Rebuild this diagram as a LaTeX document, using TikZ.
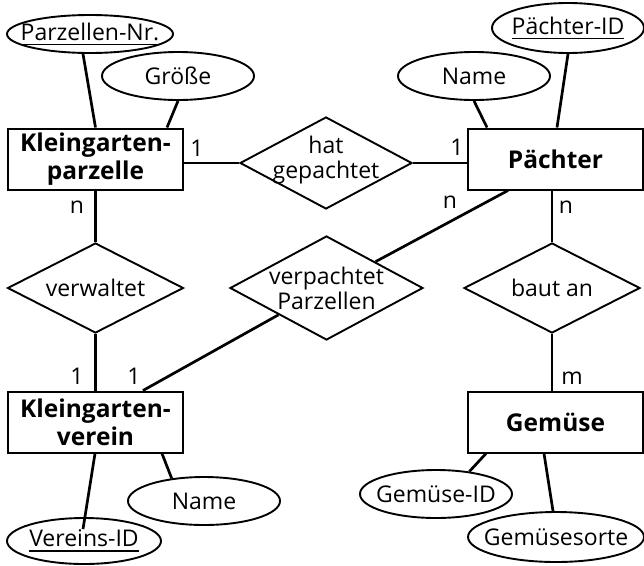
\documentclass[tikz,border=0pt]{standalone}
\usepackage{fontspec}
\setmainfont{Open Sans}
\usetikzlibrary{shapes.geometric}
\newcommand\keyattr[1]{\setbox0\hbox{#1}\rlap{\rule[-5pt]{\wd0}{1.6pt}}\box0}
\begin{document}
\begin{tikzpicture}[x=1pt,y=-1pt,
  font=\fontsize{23}{25}\selectfont,
  entity/.style={draw, line width=2pt, fill=white, font=\fontsize{24.5}{28}\selectfont\bfseries,
    align=center, inner sep=0pt, minimum width=175pt, minimum height=61pt},
  attr/.style={draw, ellipse, line width=1.9pt, inner sep=0pt},
  rel/.style={draw, diamond, line width=1.9pt, fill=white, inner sep=0pt},
  conn/.style={line width=2.7pt},
  card/.style={inner sep=0pt}]
\useasboundingbox (0,0) rectangle (644,565);

% entities
\node[entity] (kp) at (95.5,159) {Kleingarten-\\parzelle};
\node[entity] (pa) at (555.5,159) {Pächter};
\node[entity] (kv) at (95.5,422) {Kleingarten-\\verein};
\node[entity] (gem) at (555.5,422) {Gemüse};

% relationships
\node[rel, minimum width=172pt, minimum height=92pt,
  label={[align=center, inner sep=0pt, yshift=3pt]center:hat\\gepachtet}] (hat) at (326,163) {};
\node[rel, minimum width=176pt, minimum height=90pt,
  label={[inner sep=0pt]center:verwaltet}] (verw) at (95.5,288) {};
\node[rel, minimum width=193pt, minimum height=104pt,
  label={[align=center, inner sep=0pt]center:verpachtet\\Parzellen}] (vp) at (326.5,288) {};
\node[rel, minimum width=176pt, minimum height=90pt,
  label={[inner sep=0pt]center:baut an}] (bau) at (552,288) {};

% attributes
\node[attr, minimum width=166pt, minimum height=38pt,
  label={[inner sep=0pt]center:\keyattr{Parzellen-Nr.}}] (pnr) at (90,34) {};
\node[attr, minimum width=152pt, minimum height=48pt,
  label={[inner sep=0pt]center:Größe}] (gr) at (178,76) {};
\node[attr, minimum width=152pt, minimum height=50pt,
  label={[inner sep=0pt]center:\keyattr{Pächter-ID}}] (pid) at (568,28) {};
\node[attr, minimum width=152pt, minimum height=48pt,
  label={[inner sep=0pt]center:Name}] (pn) at (474,76) {};
\node[attr, minimum width=152pt, minimum height=48pt,
  label={[inner sep=0pt]center:Name}] (kvn) at (204,501) {};
\node[attr, minimum width=154pt, minimum height=46pt,
  label={[inner sep=0pt]center:\keyattr{Vereins-ID}}] (vid) at (84,541) {};
\node[attr, minimum width=152pt, minimum height=48pt,
  label={[inner sep=0pt]center:Gemüse-ID}] (gid) at (436,494) {};
\node[attr, minimum width=176pt, minimum height=50pt,
  label={[inner sep=0pt]center:Gemüsesorte}] (gs) at (556,537) {};

% connectors
\draw[conn] ([xshift=-7pt]pnr.south) -- (kp.north);
\draw[conn] (gr.south) -- ([xshift=71.5pt]kp.north);
\draw[conn] (pid.south) -- ([xshift=1.5pt]pa.north);
\draw[conn] (pn.south) -- ([xshift=-68.5pt]pa.north);
\draw[conn] (kp.east |- hat) -- (hat);
\draw[conn] (hat) -- (pa.west |- hat);
\draw[conn] (kp) -- (verw);
\draw[conn] (verw) -- (kv);
\draw[conn] (vp) -- ([xshift=47.5pt]kv.north);
\draw[conn] (vp) -- ([xshift=-47.5pt]pa.south);
\draw[conn] (bau) -- (bau |- pa.south);
\draw[conn] (bau) -- (bau |- gem.north);
\draw[conn] ([xshift=66.5pt]kv.south) -- (kvn.145);
\draw[conn] ([xshift=-0.5pt]kv.south) -- ([shift={(-1pt,-12pt)}]vid.north);
\draw[conn] ([xshift=19pt]gem.south west) -- (gid.34);
\draw[conn] ([xshift=-11.5pt]gem.south) -- ([xshift=-3pt]gs.north);

% cardinalities
\node[card] (c1) at (197,148) {1};
\node[card] (c2) at (457,147) {1};
\node[card] (c3) at (77,207) {n};
\node[card] (c4) at (450,202) {n};
\node[card] (c5) at (566,207) {n};
\node[card] (c6) at (572,378) {m};
\node[card] (c7) at (77,376) {1};
\node[card] (c8) at (134,376) {1};
\end{tikzpicture}
\end{document}
